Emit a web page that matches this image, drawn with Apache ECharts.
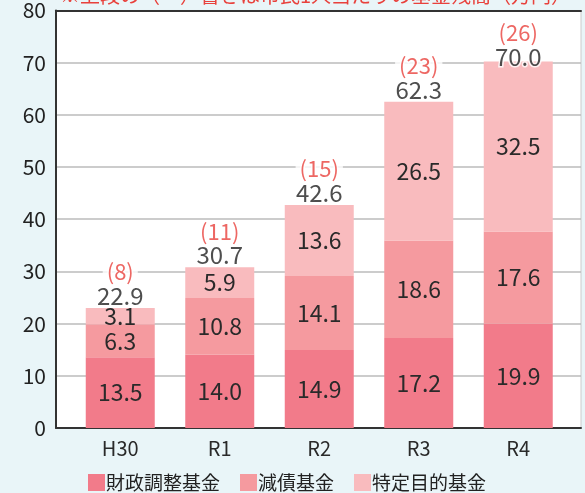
<!DOCTYPE html>
<html>
<head>
<meta charset="utf-8">
<script src="https://cdn.jsdelivr.net/npm/echarts@6/dist/echarts.min.js"></script>
<style>
  html, body { margin: 0; padding: 0; background: #e9f5f8; }
  #chart { width: 585px; height: 493px; }
</style>
</head>
<body>
<div id="chart"></div>
<script>
// 年度
const years = ['H30', 'R1', 'R2', 'R3', 'R4']
// 基金残高（億円）
const zaiseiChosei = [13.5, 14.0, 14.9, 17.2, 19.9]
const gensai = [6.3, 10.8, 14.1, 18.6, 17.6]
const tokuteiMokuteki = [3.1, 5.9, 13.6, 26.5, 32.5]
// 合計
const totals = [22.9, 30.7, 42.6, 62.3, 70.0]
// 市民1人当たり（万円）
const perCapita = [8, 11, 15, 23, 26]
const yTicks = { min: 0, max: 80, interval: 10 }

const colors = ['#f27b8a', '#f59a9f', '#f9bbbe']
const fontFamily = '"Noto Sans CJK JP", "Noto Sans", sans-serif'

const chart = echarts.init(document.getElementById('chart'))

// 棒の中のラベル
const innerLabel = {
  show: true,
  position: 'inside',
  color: '#2a2a2a',
  fontSize: 23,
  fontFamily: fontFamily,
  formatter: (p) => p.value.toFixed(1)
}

// 一番右の棒は枠の上端に近いので、ラベルを少し下げる
const totalData = totals.map((v, i) => (i === totals.length - 1 ? { value: v, label: { distance: -7 } } : v))

const option = {
  backgroundColor: '#e9f5f8',
  animation: false,
  textStyle: { fontFamily: fontFamily },
  graphic: [
    {
      type: 'text',
      left: 60,
      top: -15,
      style: {
        text: '※上段の（　）書きは市民1人当たりの基金残高（万円）',
        fill: '#e8413c',
        font: '20px ' + fontFamily
      }
    }
  ],
  grid: [
    // 枠と目盛り用
    { left: 56, right: 4, top: 9, bottom: 65, show: true, backgroundColor: '#fff', borderColor: '#ccc', borderWidth: 1 },
    // 棒グラフ用
    { left: 70.5, right: 17, top: 9, bottom: 65 }
  ],
  legend: {
    data: ['財政調整基金', '減債基金', '特定目的基金'],
    left: 83,
    top: 468,
    itemWidth: 17,
    itemHeight: 17,
    itemGap: 20,
    icon: 'rect',
    textStyle: { fontSize: 19, color: '#222', padding: [0, 0, 0, -4] }
  },
  xAxis: [
    {
      gridIndex: 0, type: 'value', min: 0, max: 1, position: 'bottom',
      axisLine: { show: true, lineStyle: { color: '#333', width: 2 } },
      axisTick: { show: false }, axisLabel: { show: false }, splitLine: { show: false }
    },
    {
      gridIndex: 0, type: 'value', min: 0, max: 1, position: 'top',
      axisLine: { show: true, lineStyle: { color: '#333', width: 2 } },
      axisTick: { show: false }, axisLabel: { show: false }, splitLine: { show: false }
    },
    {
      gridIndex: 1, type: 'category', data: years,
      axisLine: { show: false }, axisTick: { show: false },
      axisLabel: { color: '#2a2a2a', fontSize: 20, margin: 10 }
    }
  ],
  yAxis: [
    {
      gridIndex: 0, type: 'value', min: yTicks.min, max: yTicks.max, interval: yTicks.interval,
      axisLine: { show: true, lineStyle: { color: '#333', width: 2 } },
      axisTick: { show: false },
      axisLabel: { color: '#222', fontSize: 21, margin: 10 },
      splitLine: { lineStyle: { color: '#bbb', width: 1.5 } }
    },
    {
      gridIndex: 1, type: 'value', min: yTicks.min, max: yTicks.max, interval: yTicks.interval,
      show: false
    }
  ],
  series: [
    {
      name: '財政調整基金', type: 'bar', stack: 'kikin', xAxisIndex: 2, yAxisIndex: 1,
      barWidth: 69, itemStyle: { color: colors[0] }, label: innerLabel, data: zaiseiChosei
    },
    {
      name: '減債基金', type: 'bar', stack: 'kikin', xAxisIndex: 2, yAxisIndex: 1,
      barWidth: 69, itemStyle: { color: colors[1] }, label: innerLabel, data: gensai
    },
    {
      name: '特定目的基金', type: 'bar', stack: 'kikin', xAxisIndex: 2, yAxisIndex: 1,
      barWidth: 69, itemStyle: { color: colors[2] }, label: innerLabel, data: tokuteiMokuteki
    },
    {
      // 合計と1人当たり
      name: '合計', type: 'scatter', xAxisIndex: 2, yAxisIndex: 1,
      symbolSize: 0, z: 10, data: totalData,
      label: {
        show: true,
        position: 'top',
        distance: 0,
        textBorderColor: '#fff',
        textBorderWidth: 3,
        formatter: (p) => '{r|(' + perCapita[p.dataIndex] + ')}\n{t|' + p.value.toFixed(1) + '}',
        rich: {
          r: { color: '#e8413c', fontSize: 22, lineHeight: 24, backgroundColor: '#fff', padding: [0, 4] },
          t: { color: '#222', fontSize: 24, lineHeight: 24, textBorderColor: '#fff', textBorderWidth: 3 }
        }
      }
    }
  ]
}

chart.setOption(option)
</script>
</body>
</html>
